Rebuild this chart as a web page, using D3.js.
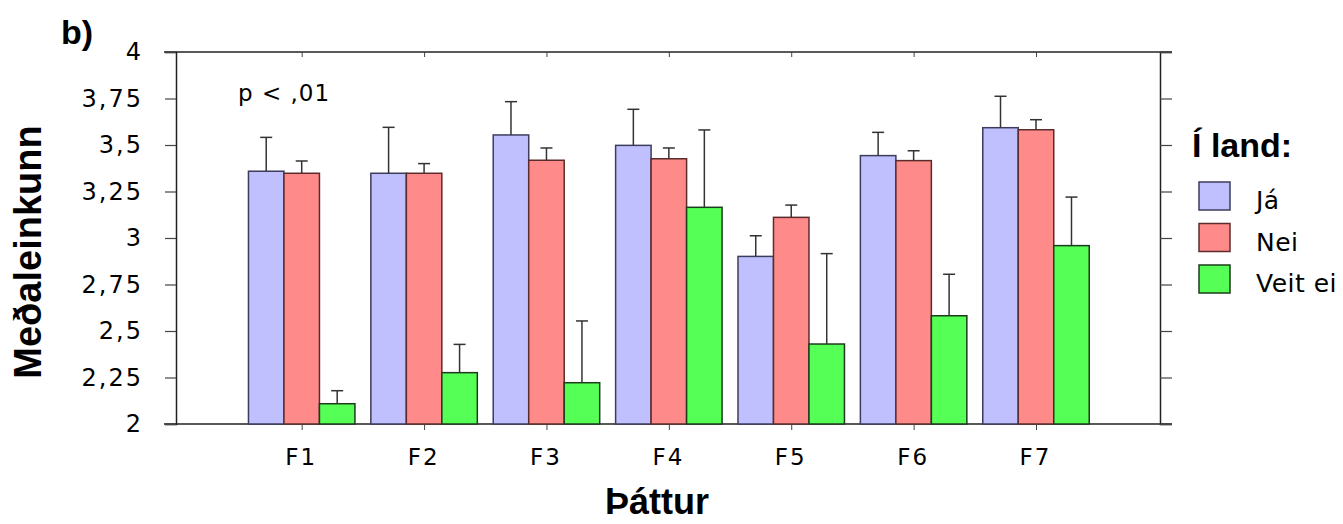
<!DOCTYPE html>
<html>
<head>
<meta charset="utf-8">
<script src="https://cdn.jsdelivr.net/npm/d3@7"></script>
<style>
  body { margin: 0; background: #fff; }
  svg { display: block; }
  .tick text { font-family: "DejaVu Sans", sans-serif; fill: #000; }
  .bold { font-family: "Liberation Sans", Arial, sans-serif; font-weight: bold; }
</style>
</head>
<body>
<svg id="chart" width="1343" height="524"></svg>
<script>
"use strict";

// data
var categories = ["F1", "F2", "F3", "F4", "F5", "F6", "F7"];
var seriesNames = ["Já", "Nei", "Veit ei"];
var jaMeans     = [3.359, 3.348, 3.554, 3.498, 2.901, 3.443, 3.593];
var jaUpper     = [3.541, 3.595, 3.733, 3.692, 3.012, 3.568, 3.762];
var neiMeans    = [3.348, 3.348, 3.418, 3.426, 3.111, 3.416, 3.582];
var neiUpper    = [3.414, 3.400, 3.484, 3.484, 3.177, 3.469, 3.636];
var veitMeans   = [2.109, 2.276, 2.222, 3.165, 2.430, 2.582, 2.959];
var veitUpper   = [2.179, 2.428, 2.554, 3.581, 2.916, 2.805, 3.220];
var yTicks = [2, 2.25, 2.5, 2.75, 3, 3.25, 3.5, 3.75, 4];

var fills   = ["#c0c0ff", "#ff8a8a", "#55ff55"];
var strokes = ["#3c3c5c", "#5c2c2c", "#1c3c1c"];

(function () {
	var means = [jaMeans, neiMeans, veitMeans];
	var uppers = [jaUpper, neiUpper, veitUpper];

	var rows = [];
	categories.forEach(function (c, i) {
		seriesNames.forEach(function (s, j) {
			rows.push({cat: c, series: s, si: j, mean: means[j][i], upper: uppers[j][i]});
		});
	});

	var svg = d3.select("#chart");
	var pLeft = 176, pRight = 1160, pTop = 52, pBottom = 424;

	var x = d3.scalePoint().domain(categories).range([301.7, 1036]);
	var step = x.step();
	var inner = d3.scaleBand().domain(seriesNames)
		.range([-0.435 * step, 0.435 * step]);
	var y = d3.scaleLinear().domain([2, 4]).range([pBottom, pTop]);

	var isl = d3.formatLocale({decimal: ",", thousands: ".", grouping: [3], currency: ["", ""]});
	var fmt = isl.format("");

	// frame lines
	svg.append("line").attr("x1", 164).attr("x2", 1172).attr("y1", pTop).attr("y2", pTop)
		.attr("stroke", "#222").attr("stroke-width", 1.5);
	svg.append("line").attr("x1", 164).attr("x2", 1172).attr("y1", pBottom).attr("y2", pBottom)
		.attr("stroke", "#222").attr("stroke-width", 1.5);

	// left axis
	var gL = svg.append("g").attr("transform", "translate(" + pLeft + ",0)")
		.call(d3.axisLeft(y).tickValues(yTicks).tickSize(11).tickPadding(24).tickFormat(fmt));
	gL.selectAll("text").attr("font-size", 24).attr("letter-spacing", "2px").attr("dx", "2px");

	// right axis
	var gR = svg.append("g").attr("transform", "translate(" + pRight + ",0)")
		.call(d3.axisRight(y).tickValues(yTicks).tickSize(12).tickFormat(""));

	[gL, gR].forEach(function (g) {
		g.select(".domain").attr("stroke", "#222").attr("stroke-width", 1.5);
		g.selectAll(".tick line").attr("stroke", "#444").attr("stroke-width", 1.2);
	});

	// top ticks (inside)
	svg.append("g").attr("transform", "translate(0," + pTop + ")")
		.call(d3.axisBottom(x).tickSize(5).tickFormat(""))
		.call(function (g) { g.select(".domain").remove(); })
		.selectAll(".tick line").attr("stroke", "#444");

	// bottom axis
	var gB = svg.append("g").attr("transform", "translate(0," + pBottom + ")")
		.call(d3.axisBottom(x).tickSize(6).tickPadding(19));
	gB.select(".domain").remove();
	gB.selectAll(".tick line").attr("stroke", "#444");
	gB.selectAll("text").attr("font-size", 23).attr("letter-spacing", "2px").attr("dx", "-1px");

	// bars
	svg.append("g").selectAll("rect").data(rows).enter().append("rect")
		.attr("x", function (d) { return x(d.cat) + inner(d.series); })
		.attr("width", inner.bandwidth())
		.attr("y", function (d) { return y(d.mean); })
		.attr("height", function (d) { return y(2) - y(d.mean); })
		.attr("fill", function (d) { return fills[d.si]; })
		.attr("stroke", function (d) { return strokes[d.si]; })
		.attr("stroke-width", 1.5);

	// error bars (upper only)
	var err = svg.append("g").attr("stroke", "#333").attr("stroke-width", 1.5);
	rows.forEach(function (d) {
		var cx = x(d.cat) + inner(d.series) + inner.bandwidth() / 2;
		err.append("line").attr("x1", cx).attr("x2", cx)
			.attr("y1", y(d.mean)).attr("y2", y(d.upper));
		err.append("line").attr("x1", cx - 6).attr("x2", cx + 6)
			.attr("y1", y(d.upper)).attr("y2", y(d.upper));
	});

	// annotations
	svg.append("text").attr("x", 238).attr("y", 101)
		.attr("font-family", "DejaVu Sans, sans-serif").attr("font-size", 23)
		.attr("letter-spacing", "1px").text("p < ,01");

	svg.append("text").attr("class", "bold").attr("x", 61).attr("y", 44)
		.attr("font-size", 34).text("b)");

	svg.append("text").attr("class", "bold")
		.attr("transform", "translate(41," + ((pTop + pBottom) / 2 + 14) + ") rotate(-90)")
		.attr("text-anchor", "middle").attr("font-size", 38).text("Meðaleinkunn");

	svg.append("text").attr("class", "bold").attr("x", 657).attr("y", 514)
		.attr("text-anchor", "middle").attr("font-size", 36).text("Þáttur");

	// legend
	var leg = svg.append("g");
	leg.append("text").attr("class", "bold").attr("x", 1192).attr("y", 157)
		.attr("font-size", 34).text("Í land:");
	var items = leg.selectAll("g.item").data(seriesNames).enter().append("g")
		.attr("class", "item")
		.attr("transform", function (d, i) { return "translate(1199," + (182 + i * 41.5) + ")"; });
	items.append("rect").attr("width", 31).attr("height", 28)
		.attr("fill", function (d, i) { return fills[i]; })
		.attr("stroke", function (d, i) { return strokes[i]; })
		.attr("stroke-width", 1.5);
	items.append("text").attr("x", 57).attr("y", 27)
		.attr("font-family", "DejaVu Sans, sans-serif").attr("font-size", 25)
		.attr("letter-spacing", "0.5px")
		.text(function (d) { return d; });
})();
</script>
</body>
</html>
